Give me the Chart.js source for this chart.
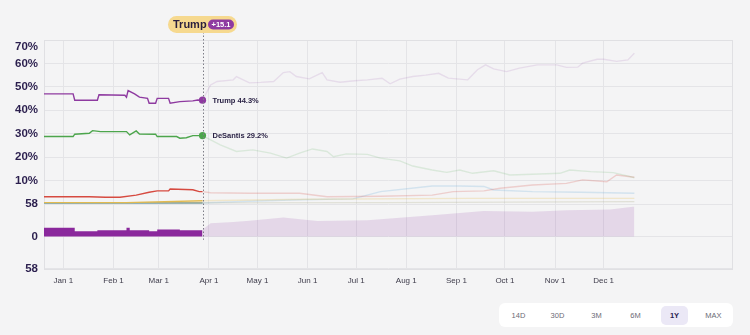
<!DOCTYPE html>
<html>
<head>
<meta charset="utf-8">
<title>Primary polling average</title>
<script src="https://cdn.jsdelivr.net/npm/chart.js@4.4.1/dist/chart.umd.min.js"></script>
<style>
  body { margin: 0; background: #f4f4f5; font-family: "Liberation Sans", Arial, sans-serif; }
  #wrap { position: relative; width: 750px; height: 335px; overflow: hidden; }
  #pollChart { position: absolute; left: 0; top: 0; }
  .ranges { position: absolute; left: 499px; top: 303px; width: 234px; height: 24px;
            background: #fff; border-radius: 6px; display: flex; align-items: center; }
  .ranges span { width: 39px; text-align: center; font-size: 7.5px; color: #6b6b76; }
  .ranges span b { display: inline-block; width: 27px; height: 19px; line-height: 19px;
                   background: #ebe8f6; border-radius: 5px; color: #2a2150; }
</style>
</head>
<body>
<div id="wrap">
  <canvas id="pollChart" width="750" height="296"></canvas>
  <div class="ranges">
    <span>14D</span><span>30D</span><span>3M</span><span>6M</span><span><b>1Y</b></span><span>MAX</span>
  </div>
</div>
<script>
// day 0 = Jan 1
var hoverDay = 86;
var monthStarts = [0, 31, 59, 90, 120, 151, 181, 212, 243, 273, 304, 334];
var monthNames = ['Jan', 'Feb', 'Mar', 'Apr', 'May', 'Jun', 'Jul', 'Aug', 'Sep', 'Oct', 'Nov', 'Dec'];
var pctTicks = [10, 20, 30, 40, 50, 60, 70];
var volTicks = [-58, 0, 58];

var trumpDays = [-12, 6, 7, 21, 22, 38, 39, 40, 44, 47, 52, 53, 57, 58, 65, 66, 72, 80, 83, 86,
                 91, 95, 105, 107, 115, 122, 130, 136, 140, 144, 152, 160, 163, 171, 180, 188, 197, 202,
                 208, 216, 224, 232, 238, 250, 256, 261, 266, 274, 282, 293, 305, 311, 318, 321, 330, 334,
                 342, 349, 353];
var trumpVals = [47.0, 47.0, 44.3, 44.3, 46.6, 46.4, 45.6, 48.4, 47.0, 45.6, 45.1, 43.0, 43.0, 45.1, 45.1, 43.0, 43.7, 44.0, 44.4, 44.3,
                 50.8, 52.3, 53.0, 54.4, 51.7, 51.9, 52.3, 56.1, 56.5, 54.4, 53.4, 56.1, 53.0, 52.0, 52.6, 53.0, 53.7, 51.3,
                 53.3, 54.4, 55.0, 55.8, 53.7, 53.0, 57.3, 59.4, 57.7, 56.5, 58.0, 59.4, 59.4, 58.3, 58.4, 60.1, 61.8, 61.8,
                 60.9, 61.5, 64.3];

var desantisDays = [-12, 6, 7, 16, 18, 23, 39, 41, 45, 47, 57, 58, 70, 72, 76, 80, 86,
                    91, 97, 107, 117, 128, 138, 146, 154, 163, 167, 175, 188, 196, 208, 216, 228, 237, 245,
                    253, 266, 276, 290, 307, 313, 326, 340, 350, 353];
var desantisVals = [28.8, 28.8, 29.8, 30.2, 31.3, 30.9, 30.9, 29.5, 31.2, 29.9, 29.8, 28.8, 28.8, 28.1, 28.3, 29.2, 29.2,
                    27.4, 25.2, 22.4, 23.1, 21.7, 19.6, 21.7, 23.5, 22.4, 20.2, 21.4, 21.2, 19.6, 18.4, 16.2, 14.5, 13.5, 14.5,
                    13.1, 14.2, 12.4, 12.7, 13.1, 14.5, 13.8, 13.4, 11.8, 11.2];

var haleyDays = [-12, 16, 26, 35, 45, 53, 58, 65, 66, 80, 84, 86,
                 91, 115, 146, 163, 196, 228, 241, 260, 270, 290, 311, 321, 336, 342, 353];
var haleyVals = [3.1, 3.1, 2.9, 2.9, 3.8, 5.0, 5.6, 5.6, 6.4, 6.1, 5.3, 5.3,
                 4.8, 4.6, 4.6, 3.1, 3.3, 3.8, 5.3, 5.6, 6.7, 8.1, 8.8, 10.3, 9.5, 12.4, 11.4];

var ramaswamyDays = [-12, 86, 115, 146, 179, 196, 228, 245, 260, 266, 290, 320, 353];
var ramaswamyVals = [0.3, 0.4, 1.2, 1.8, 2.2, 5.3, 7.7, 7.7, 7.5, 6.0, 5.3, 5.0, 4.6];

var penceDays = [-12, 39, 86, 150, 250, 353];
var penceVals = [0.6, 0.6, 1.4, 2.0, 2.4, 2.4];

var christieDays = [-12, 86, 200, 353];
var christieVals = [0.6, 0.5, 0.6, 1.0];

var volDays = [-12, 7, 21, 39, 41, 53, 58, 70, 72, 86,
               91, 105, 115, 136, 157, 188, 228, 260, 290, 311, 338, 352, 353];
var volVals = [15.5, 9.5, 11.2, 15.5, 11.2, 9.5, 12.5, 12.5, 11.2, 12,
               23.6, 26, 28, 34, 27.8, 29, 38, 45.5, 44, 47, 48, 53, 53];

function pts(days, vals) {
  return days.map(function (d, i) { return {x: d, y: vals[i]}; });
}
function rgba(c, a) {
  return 'rgba(' + c[0] + ',' + c[1] + ',' + c[2] + ',' + a + ')';
}

function lineSet(label, color, days, vals, fadeAlpha, marker) {
  return {
    label: label,
    data: pts(days, vals),
    yAxisID: 'y',
    borderColor: rgba(color, 1),
    backgroundColor: rgba(color, 1),
    borderWidth: 1.4,
    tension: 0,
    pointRadius: marker ? function (c) { return c.raw && c.raw.x === hoverDay ? 3.6 : 0; } : 0,
    pointBorderWidth: 0,
    pointHoverRadius: 0,
    segment: {
      borderColor: function (c) { return c.p0.parsed.x >= hoverDay ? rgba(color, fadeAlpha) : undefined; }
    }
  };
}

var purple = [142, 58, 160];
var green = [76, 165, 76];
var volPurple = [138, 40, 156];

var volume = pts(volDays, volVals);

// earlier datasets are painted on top
var datasets = [
  lineSet('Trump', purple, trumpDays, trumpVals, 0.13, true),
  lineSet('DeSantis', green, desantisDays, desantisVals, 0.15, true),
  lineSet('Haley', [214, 74, 64], haleyDays, haleyVals, 0.22, false),
  lineSet('Pence', [226, 186, 80], penceDays, penceVals, 0.25, false),
  lineSet('Christie', [168, 168, 128], christieDays, christieVals, 0.25, false),
  lineSet('Ramaswamy', [110, 175, 220], ramaswamyDays, ramaswamyVals, 0.25, false),
  {
    label: 'Volume',
    data: volume.filter(function (p) { return p.x <= hoverDay; }),
    yAxisID: 'y2',
    stepped: true,
    fill: 'origin',
    borderWidth: 0,
    pointRadius: 0,
    backgroundColor: rgba(volPurple, 1)
  },
  {
    label: 'Volume (later)',
    data: volume.filter(function (p) { return p.x >= hoverDay; }),
    yAxisID: 'y2',
    fill: 'origin',
    borderWidth: 0,
    pointRadius: 0,
    tension: 0,
    backgroundColor: rgba(volPurple, 0.14)
  }
];

// plot frame, cursor line, value labels and the lead pill
var hoverMarker = {
  id: 'hoverMarker',
  beforeDatasetsDraw: function (chart) {
    var a = chart.chartArea, ctx = chart.ctx;
    ctx.save();
    ctx.strokeStyle = '#e0e0e3';
    ctx.lineWidth = 1;
    ctx.strokeRect(a.left + 0.5, a.top + 0.5, a.right - a.left - 1, a.bottom - a.top - 1);
    ctx.restore();
  },
  afterDatasetsDraw: function (chart) {
    var ctx = chart.ctx, a = chart.chartArea;
    var x = chart.scales.x.getPixelForValue(hoverDay);
    var yEnd = chart.scales.y2.getPixelForValue(-6);
    ctx.save();
    ctx.strokeStyle = '#7d7d86';
    ctx.lineWidth = 1;
    ctx.setLineDash([1.5, 2]);
    ctx.beginPath();
    ctx.moveTo(Math.round(x) + 0.5, a.top - 8);
    ctx.lineTo(Math.round(x) + 0.5, yEnd);
    ctx.stroke();
    ctx.setLineDash([]);

    var lead = [];
    [0, 1].forEach(function (i) {
      var ds = chart.data.datasets[i];
      var k = ds.data.findIndex(function (p) { return p.x === hoverDay; });
      var pt = chart.getDatasetMeta(i).data[k];
      lead.push(ds.data[k].y);
      ctx.font = 'bold 7.5px "Liberation Sans", Arial, sans-serif';
      ctx.fillStyle = '#2b2346';
      ctx.textBaseline = 'middle';
      ctx.textAlign = 'left';
      ctx.fillText(ds.label + ' ' + ds.data[k].y.toFixed(1) + '%', pt.x + 10, pt.y + 0.5);
    });

    // pill above the plot
    var diff = '+' + (lead[0] - lead[1]).toFixed(1);
    var cy = a.top - 15.5;
    var w = 69, h = 17;
    var left = x - w / 2;
    ctx.fillStyle = '#f6d98f';
    ctx.beginPath();
    ctx.roundRect(left, cy - h / 2, w, h, h / 2);
    ctx.fill();
    ctx.fillStyle = '#2a1f3d';
    ctx.font = 'bold 11px "Liberation Sans", Arial, sans-serif';
    ctx.textBaseline = 'middle';
    ctx.textAlign = 'left';
    ctx.fillText(chart.data.datasets[0].label, left + 5, cy + 0.5);
    ctx.fillStyle = rgba(purple, 1);
    ctx.beginPath();
    ctx.roundRect(left + 40, cy - 5, 26, 10, 5);
    ctx.fill();
    ctx.fillStyle = '#ffffff';
    ctx.font = 'bold 7.5px "Liberation Sans", Arial, sans-serif';
    ctx.textAlign = 'center';
    ctx.fillText(diff, left + 53, cy + 0.5);
    ctx.restore();
  }
};

var gridColor = '#e4e4e7';
var axisFont = {family: '"Liberation Sans", Arial, sans-serif', size: 11.5, weight: 'bold'};

var ctx = document.getElementById('pollChart').getContext('2d');
var pollChart = new Chart(ctx, {
  type: 'line',
  data: {datasets: datasets},
  plugins: [hoverMarker],
  options: {
    responsive: false,
    animation: false,
    devicePixelRatio: 1,
    layout: {padding: {top: 40, right: 17, left: 0, bottom: 0}},
    plugins: {legend: {display: false}, tooltip: {enabled: false}},
    events: [],
    scales: {
      x: {
        type: 'linear',
        min: -12,
        max: 414,
        afterBuildTicks: function (s) { s.ticks = monthStarts.map(function (v) { return {value: v}; }); },
        afterFit: function (s) { s.height = 26; },
        grid: {color: gridColor, drawTicks: false},
        border: {display: false},
        ticks: {
          autoSkip: false, maxRotation: 0, padding: 6,
          color: '#3d3b4a',
          font: {family: '"Liberation Sans", Arial, sans-serif', size: 8},
          callback: function (v) { return monthNames[monthStarts.indexOf(v)] + ' 1'; }
        }
      },
      y: {
        type: 'linear',
        position: 'left',
        stack: 'panel',
        stackWeight: 164,
        weight: 2,
        min: 0,
        max: 70,
        afterBuildTicks: function (s) { s.ticks = pctTicks.map(function (v) { return {value: v}; }); },
        afterFit: function (s) { s.width = 44; },
        grid: {color: gridColor, drawTicks: false},
        border: {display: false},
        ticks: {autoSkip: false, padding: 6, color: '#2b1f4e', font: axisFont,
                // the top label sits just under the frame edge
                callback: function (v) { return v === 70 ? ['', v + '%'] : v + '%'; }}
      },
      y2: {
        type: 'linear',
        position: 'left',
        stack: 'panel',
        stackWeight: 66,
        weight: 1,
        min: -60,
        max: 58,
        afterBuildTicks: function (s) { s.ticks = volTicks.map(function (v) { return {value: v}; }); },
        afterFit: function (s) { s.width = 44; },
        grid: {color: gridColor, drawTicks: false},
        border: {display: false},
        ticks: {autoSkip: false, padding: 6, color: '#2b1f4e', font: axisFont,
                callback: function (v) { return String(Math.abs(v)); }}
      }
    }
  }
});
</script>
</body>
</html>
